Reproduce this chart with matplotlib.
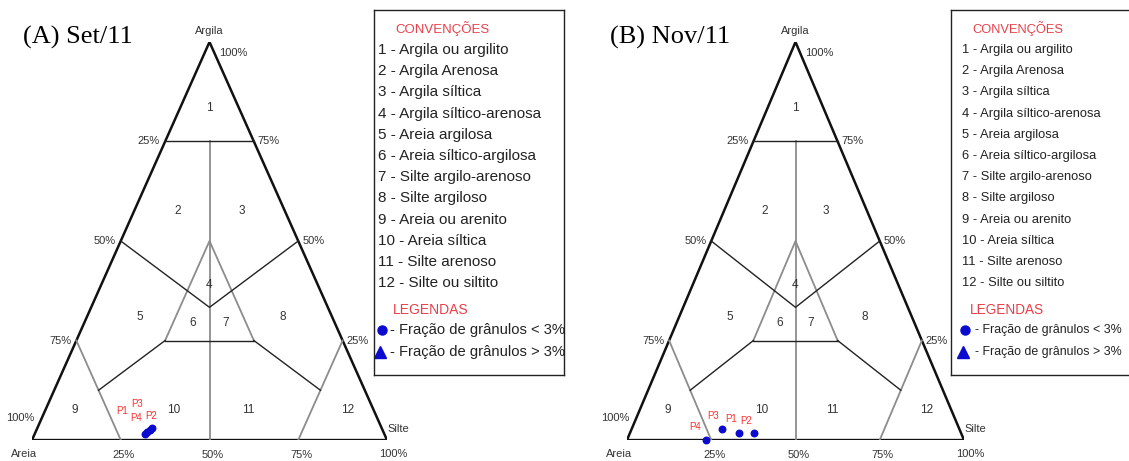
import matplotlib
matplotlib.use("Agg")
import matplotlib.pyplot as plt

plt.rcParams["font.family"] = ["Liberation Sans", "DejaVu Sans"]

W, H = 1129, 461

# samples (areia, silte, argila) in %
labels_a = ["P3", "P1", "P4", "P2"]
areia_a = [67.5, 66.6, 65.6, 64.7]
silte_a = [31.0, 31.4, 31.8, 32.2]
argila_a = [1.5, 2.0, 2.6, 3.1]

labels_b = ["P1", "P2", "P3", "P4"]
areia_b = [65.9, 61.4, 70.4, 76.6]
silte_b = [32.3, 36.8, 26.8, 23.4]
argila_b = [1.8, 1.8, 2.8, 0.0]

classes = ["1 - Argila ou argilito", "2 - Argila Arenosa", "3 - Argila síltica",
           "4 - Argila síltico-arenosa", "5 - Areia argilosa", "6 - Areia síltico-argilosa",
           "7 - Silte argilo-arenoso", "8 - Silte argiloso", "9 - Areia ou arenito",
           "10 - Areia síltica", "11 - Silte arenoso", "12 - Silte ou siltito"]

black_lines = [[(25, 0, 75), (0, 25, 75)],
               [(50, 0, 50), (100 / 3, 100 / 3, 100 / 3), (0, 50, 50)],
               [(50, 25, 25), (25, 50, 25)],
               [(50, 25, 25), (75, 12.5, 12.5)],
               [(25, 50, 25), (12.5, 75, 12.5)]]
gray_lines = [[(12.5, 12.5, 75), (50, 50, 0)],
              [(50, 25, 25), (25, 25, 50), (25, 50, 25)],
              [(75, 0, 25), (75, 25, 0)],
              [(0, 75, 25), (25, 75, 0)]]
region_pos = [(0.5, 0.835), (0.41, 0.575), (0.59, 0.575), (0.5, 0.39), (0.305, 0.31),
              (0.453, 0.295), (0.545, 0.295), (0.705, 0.31), (0.12, 0.075),
              (0.4, 0.075), (0.61, 0.075), (0.89, 0.075)]

RED = "#e8404a"
BLUE = "#0a0ad0"
TXT = "#333333"


def tern(areia, silte, argila):
    s = areia + silte + argila
    return (silte + argila / 2) / s, argila / s


def draw_lines(ax, lines, **kw):
    for pts in lines:
        xy = [tern(*p) for p in pts]
        ax.plot([p[0] for p in xy], [p[1] for p in xy], **kw)


def pct(ax, text, xy, dx, dy, ha="center", fs=8):
    ax.annotate(text, xy=xy, xytext=(dx, dy), textcoords="offset pixels",
                ha=ha, va="center", fontsize=fs, color=TXT, annotation_clip=False)


def triangle(rect, areia, silte, argila, labels, offsets):
    ax = fig.add_axes(rect)
    ax.set_xlim(0, 1)
    ax.set_ylim(0, 1)
    ax.axis("off")
    ax.plot([0, 0.5, 1], [0, 1, 0], color="#111111", lw=1.8, solid_joinstyle="miter")
    ax.plot([0, 1], [0, 0], color="#111111", lw=2.4)
    draw_lines(ax, gray_lines, color="#8c8c8c", lw=1.3)
    draw_lines(ax, black_lines, color="#222222", lw=1.0)
    for i, (x, y) in enumerate(region_pos):
        ax.text(x, y, str(i + 1), ha="center", va="center", fontsize=8.5, color=TXT)

    # side / vertex labels
    pct(ax, "Argila", (0.5, 1), 0, 11)
    pct(ax, "100%", (0.5, 1), 10, -11, ha="left")
    for v, left_lab, right_lab in [(0.75, "25%", "75%"), (0.5, "50%", "50%"), (0.25, "75%", "25%")]:
        pct(ax, left_lab, tern(100 - v * 100, 0, v * 100), -5, 0, ha="right")
        pct(ax, right_lab, tern(0, 100 - v * 100, v * 100), 4, 0, ha="left")
    pct(ax, "100%", (0, 0), 2, 22, ha="right")
    pct(ax, "Areia", (0, 0), -8, -14)
    for v in [25, 50, 75]:
        pct(ax, f"{v}%", tern(100 - v, v, 0), 3, -15)
    pct(ax, "100%", (1, 0), 6, -14)
    pct(ax, "Silte", (1, 0), 0, 11, ha="left")

    xs, ys = zip(*[tern(a, s, c) for a, s, c in zip(areia, silte, argila)])
    ax.scatter(xs, ys, s=22, marker="o", color=BLUE, zorder=5, clip_on=False)
    for lab, x, y, (dx, dy) in zip(labels, xs, ys, offsets):
        ax.annotate(lab, xy=(x, y), xytext=(dx, dy), textcoords="offset pixels",
                    ha="center", va="center", fontsize=7, color="#ff3030",
                    annotation_clip=False)
    return ax


def legend(left, item_x, head_x, mk_x, txt_x, fs, fs_head):
    ax = fig.add_axes([left / W, (H - 375) / H, 190 / W, 365 / H])
    ax.set_xlim(0, 190)
    ax.set_ylim(365, 0)
    ax.set_xticks([])
    ax.set_yticks([])
    for sp in ax.spines.values():
        sp.set_linewidth(1.0)
        sp.set_color("#222222")
    ax.text(head_x, 19, "CONVENÇÕES", fontsize=fs_head, color=RED, va="center")
    for i, c in enumerate(classes):
        ax.text(item_x, 40 + 21.2 * i, c, fontsize=fs, color="#222222", va="center")
    ax.text(head_x - 2, 300, "LEGENDAS", fontsize=fs_head + 0.5, color=RED, va="center")
    ax.plot([mk_x], [320], marker="o", ms=6.5, color=BLUE, clip_on=False)
    ax.plot([mk_x - 2], [342], marker="^", ms=8, color=BLUE, clip_on=False)
    ax.text(txt_x, 320, "- Fração de grânulos < 3%", fontsize=fs - 0.4, color="#222222", va="center")
    ax.text(txt_x, 342, "- Fração de grânulos > 3%", fontsize=fs - 0.4, color="#222222", va="center")


fig = plt.figure(figsize=(W / 100, H / 100), dpi=100)

triangle([32 / W, 21 / H, 355 / W, 398 / H], areia_a, silte_a, argila_a, labels_a,
         [(-8, 30), (-25, 21), (-13, 12), (-1, 12)])
triangle([627 / W, 21 / H, 337 / W, 398 / H], areia_b, silte_b, argila_b, labels_b,
         [(-8, 14), (-8, 12), (-9, 13), (-11, 13)])

legend(374, 4, 21, 8, 16, 11, 9.5)
legend(951, 11, 21, 14, 24, 9.3, 9.3)

fig.text(23 / W, 1 - 37 / H, "(A) Set/11", family="Liberation Serif", fontsize=19, va="center")
fig.text(610 / W, 1 - 37 / H, "(B) Nov/11", family="Liberation Serif", fontsize=19, va="center")

fig.savefig("out.png", dpi=100)
